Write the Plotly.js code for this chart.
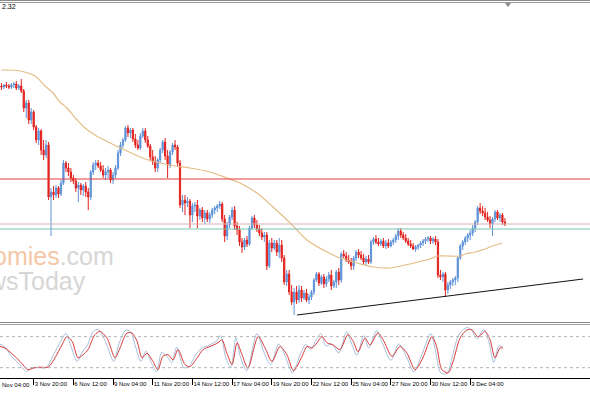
<!DOCTYPE html>
<html><head><meta charset="utf-8">
<script src="https://cdn.plot.ly/plotly-3.0.1.min.js"></script>
<style>html,body{margin:0;padding:0;background:#fff}#chart{width:590px;height:393px}</style>
</head><body><div id="chart"></div>
<script>
// ---- data (4H bars, bar index 0 = "1 Nov 04:00") ----
const firstBar = 3;
const openP = [1.1914,1.1913,1.1915,1.1914,1.1913,1.1915,1.1916,1.1912,
 1.1914,1.1909,1.1892,1.1897,1.1880,1.1888,1.1873,1.1860,1.1869,1.1850,
 1.1845,1.1855,1.1803,1.1808,1.1805,1.1812,1.1806,1.1817,1.1837,1.1832,
 1.1828,1.1822,1.1819,1.1812,1.1815,1.1810,1.1814,1.1808,1.1803,1.1828,
 1.1835,1.1837,1.1834,1.1830,1.1825,1.1828,1.1830,1.1820,1.1825,1.1832,
 1.1847,1.1855,1.1860,1.1872,1.1867,1.1870,1.1861,1.1855,1.1852,1.1864,
 1.1869,1.1860,1.1854,1.1843,1.1838,1.1832,1.1840,1.1850,1.1858,1.1844,
 1.1835,1.1848,1.1855,1.1853,1.1837,1.1795,1.1800,1.1797,1.1799,1.1785,
 1.1794,1.1795,1.1784,1.1790,1.1782,1.1787,1.1781,1.1785,1.1790,1.1792,
 1.1794,1.1796,1.1781,1.1764,1.1775,1.1783,1.1790,1.1774,1.1770,1.1758,
 1.1753,1.1760,1.1756,1.1772,1.1782,1.1775,1.1771,1.1767,1.1763,1.1765,
 1.1734,1.1757,1.1752,1.1757,1.1748,1.1755,1.1742,1.1718,1.1726,1.1708,
 1.1698,1.1708,1.1700,1.1710,1.1702,1.1707,1.1700,1.1703,1.1708,1.1720,
 1.1726,1.1717,1.1723,1.1716,1.1721,1.1725,1.1714,1.1718,1.1728,1.1720,
 1.1746,1.1744,1.1740,1.1738,1.1734,1.1742,1.1748,1.1745,1.1742,1.1738,
 1.1741,1.1738,1.1758,1.1761,1.1758,1.1756,1.1759,1.1754,1.1757,1.1754,
 1.1758,1.1760,1.1764,1.1769,1.1765,1.1762,1.1759,1.1756,1.1754,1.1751,
 1.1753,1.1755,1.1757,1.1759,1.1761,1.1762,1.1759,1.1761,1.1758,1.1725,
 1.1723,1.1726,1.1710,1.1715,1.1718,1.1720,1.1722,1.1742,1.1754,1.1758,
 1.1762,1.1765,1.1767,1.1772,1.1778,1.1792,1.1789,1.1787,1.1783,1.1780,
 1.1776,1.1781,1.1788,1.1782,1.1785,1.1778];
const highP = [1.1917,1.1916,1.1918,1.1916,1.1917,1.1918,1.1919,1.1916,
 1.1921,1.1911,1.1900,1.1900,1.1892,1.1890,1.1875,1.1872,1.1871,1.1860,
 1.1860,1.1858,1.1812,1.1814,1.1815,1.1814,1.1820,1.1840,1.1839,1.1837,
 1.1832,1.1825,1.1822,1.1818,1.1817,1.1816,1.1818,1.1812,1.1830,1.1838,
 1.1840,1.1840,1.1838,1.1835,1.1832,1.1834,1.1832,1.1828,1.1835,1.1850,
 1.1858,1.1862,1.1874,1.1875,1.1872,1.1872,1.1866,1.1860,1.1867,1.1872,
 1.1872,1.1864,1.1856,1.1850,1.1844,1.1842,1.1852,1.1860,1.1862,1.1850,
 1.1850,1.1857,1.1860,1.1855,1.1840,1.1805,1.1805,1.1803,1.1801,1.1797,
 1.1798,1.1800,1.1792,1.1793,1.1790,1.1790,1.1788,1.1792,1.1794,1.1796,
 1.1799,1.1798,1.1785,1.1778,1.1785,1.1793,1.1794,1.1778,1.1774,1.1762,
 1.1762,1.1764,1.1774,1.1784,1.1785,1.1780,1.1775,1.1772,1.1768,1.1768,
 1.1760,1.1762,1.1760,1.1760,1.1762,1.1760,1.1745,1.1730,1.1730,1.1715,
 1.1712,1.1714,1.1715,1.1714,1.1710,1.1711,1.1706,1.1710,1.1722,1.1728,
 1.1728,1.1725,1.1726,1.1724,1.1728,1.1730,1.1720,1.1730,1.1732,1.1748,
 1.1750,1.1748,1.1745,1.1742,1.1744,1.1750,1.1751,1.1749,1.1746,1.1744,
 1.1745,1.1760,1.1763,1.1765,1.1762,1.1761,1.1762,1.1760,1.1761,1.1760,
 1.1762,1.1766,1.1772,1.1772,1.1768,1.1766,1.1762,1.1760,1.1757,1.1755,
 1.1756,1.1759,1.1761,1.1763,1.1764,1.1764,1.1763,1.1764,1.1761,1.1730,
 1.1728,1.1728,1.1718,1.1720,1.1722,1.1724,1.1744,1.1756,1.1760,1.1764,
 1.1767,1.1770,1.1775,1.1780,1.1794,1.1797,1.1794,1.1792,1.1788,1.1784,
 1.1783,1.1790,1.1790,1.1787,1.1787,1.1782];
const lowP = [1.1910,1.1911,1.1912,1.1911,1.1911,1.1912,1.1910,1.1910,
 1.1907,1.1888,1.1882,1.1876,1.1876,1.1870,1.1857,1.1855,1.1845,1.1840,
 1.1842,1.1800,1.1764,1.1800,1.1802,1.1802,1.1804,1.1815,1.1828,1.1824,
 1.1818,1.1816,1.1808,1.1798,1.1805,1.1804,1.1803,1.1790,1.1800,1.1825,
 1.1830,1.1832,1.1828,1.1822,1.1820,1.1822,1.1817,1.1816,1.1822,1.1830,
 1.1844,1.1852,1.1858,1.1863,1.1862,1.1858,1.1852,1.1850,1.1850,1.1862,
 1.1857,1.1852,1.1840,1.1835,1.1828,1.1828,1.1837,1.1847,1.1840,1.1822,
 1.1832,1.1845,1.1850,1.1834,1.1792,1.1788,1.1785,1.1793,1.1772,1.1778,
 1.1788,1.1772,1.1780,1.1778,1.1776,1.1778,1.1777,1.1782,1.1786,1.1788,
 1.1791,1.1778,1.1758,1.1760,1.1772,1.1780,1.1770,1.1765,1.1754,1.1747,
 1.1750,1.1753,1.1754,1.1770,1.1772,1.1768,1.1764,1.1760,1.1758,1.1730,
 1.1732,1.1748,1.1750,1.1744,1.1742,1.1738,1.1715,1.1714,1.1705,1.1695,
 1.1685,1.1696,1.1697,1.1698,1.1700,1.1698,1.1696,1.1700,1.1705,1.1718,
 1.1714,1.1715,1.1712,1.1713,1.1718,1.1710,1.1712,1.1712,1.1715,1.1717,
 1.1742,1.1738,1.1736,1.1730,1.1730,1.1739,1.1742,1.1740,1.1735,1.1734,
 1.1736,1.1736,1.1755,1.1756,1.1754,1.1754,1.1752,1.1751,1.1752,1.1753,
 1.1755,1.1757,1.1760,1.1762,1.1760,1.1757,1.1754,1.1752,1.1750,1.1748,
 1.1750,1.1752,1.1754,1.1756,1.1758,1.1756,1.1756,1.1755,1.1722,1.1720,
 1.1718,1.1703,1.1706,1.1711,1.1714,1.1715,1.1718,1.1740,1.1750,1.1755,
 1.1758,1.1760,1.1764,1.1768,1.1775,1.1786,1.1784,1.1780,1.1778,1.1772,
 1.1764,1.1778,1.1780,1.1778,1.1775,1.1774];
const closeP = [1.1913,1.1915,1.1914,1.1913,1.1915,1.1916,1.1912,1.1914,
 1.1909,1.1892,1.1897,1.1880,1.1888,1.1873,1.1860,1.1869,1.1850,1.1845,
 1.1855,1.1803,1.1808,1.1805,1.1812,1.1806,1.1817,1.1837,1.1832,1.1828,
 1.1822,1.1819,1.1812,1.1815,1.1810,1.1814,1.1808,1.1803,1.1828,1.1835,
 1.1837,1.1834,1.1830,1.1825,1.1828,1.1830,1.1820,1.1825,1.1832,1.1847,
 1.1855,1.1860,1.1872,1.1867,1.1870,1.1861,1.1855,1.1852,1.1864,1.1869,
 1.1860,1.1854,1.1843,1.1838,1.1832,1.1840,1.1850,1.1858,1.1844,1.1835,
 1.1848,1.1855,1.1853,1.1837,1.1795,1.1800,1.1797,1.1799,1.1785,1.1794,
 1.1795,1.1784,1.1790,1.1782,1.1787,1.1781,1.1785,1.1790,1.1792,1.1794,
 1.1796,1.1781,1.1764,1.1775,1.1783,1.1790,1.1774,1.1770,1.1758,1.1753,
 1.1760,1.1756,1.1772,1.1782,1.1775,1.1771,1.1767,1.1763,1.1765,1.1734,
 1.1757,1.1752,1.1757,1.1748,1.1755,1.1742,1.1718,1.1726,1.1708,1.1698,
 1.1708,1.1700,1.1710,1.1702,1.1707,1.1700,1.1703,1.1708,1.1720,1.1726,
 1.1717,1.1723,1.1716,1.1721,1.1725,1.1714,1.1718,1.1728,1.1720,1.1746,
 1.1744,1.1740,1.1738,1.1734,1.1742,1.1748,1.1745,1.1742,1.1738,1.1741,
 1.1738,1.1758,1.1761,1.1758,1.1756,1.1759,1.1754,1.1757,1.1754,1.1758,
 1.1760,1.1764,1.1769,1.1765,1.1762,1.1759,1.1756,1.1754,1.1751,1.1753,
 1.1755,1.1757,1.1759,1.1761,1.1762,1.1759,1.1761,1.1758,1.1725,1.1723,
 1.1726,1.1710,1.1715,1.1718,1.1720,1.1722,1.1742,1.1754,1.1758,1.1762,
 1.1765,1.1767,1.1772,1.1778,1.1792,1.1789,1.1787,1.1783,1.1780,1.1776,
 1.1781,1.1788,1.1782,1.1785,1.1778,1.1776];

// moving average, read at sample bars
const maBars = [3,10.5,16.5,20.6,23.8,26.6,29.4,33.5,36.7,40.7,46.8,52.8,60.9,66.9,73,79,87,93.9,99.2,106,112.5,119.4,126.2,132.7,139.5,146.4,152.8,159.7,165.7,171,175.8,179,182.7,187.9,190,194,198,201,205];
const maVal = [1.1930,1.1929,1.1924,1.1914,1.1907,1.1898,1.1892,1.1880,1.1872,1.1865,1.1857,1.1850,1.1841,1.1837,1.1834,1.1832,1.1828,1.1822,1.1817,1.1807,1.1793,1.1777,1.1760,1.1750,1.1742,1.1737,1.1733,1.1732,1.1735,1.1738,1.1741,1.1744,1.1744,1.1744,1.1746,1.1748,1.1751,1.1754,1.1757];

// horizontal levels
const levelRed = 1.1821, levelRose = 1.1776, levelTeal = 1.1771;
// trend line end points
const trendBars = [122.2, 237.5];
const trendVal = [1.1685, 1.1721];

// stochastic oscillator
const dBars = [2.4,4.4,7.7,10.5,13.7,15.7,18.5,21.8,24.6,27.4,29.4,31.5,33.9,35.9,37.9,40.7,42.7,45.6,48.8,50.8,53.6,55.6,57.7,59.7,61.7,64.1,66.1,68.1,70.2,72.2,74.2,77,79,81.9,84.3,87.1,90.3,91.9,93.9,96,98,100,102.4,106.5,109.3,112.1,115.3,118.1,120.8,124.2,126.2,128.2,130.2,132.3,134.3,136.7,139.5,142.7,144.8,146.8,149.6,151.6,154.8,156.9,160.5,163.7,166.5,169.8,172.9,176.6,178.6,180.6,183.1,185.1,187.9,190.7,192.7,195.2,198,200,202,204,205.2];
const stochD = [61,58,45,32,16,19,21,21,39,64,80,71,39,45,55,84,90,77,39,58,87,87,71,39,48,32,16,42,45,35,55,26,22,39,55,61,68,74,48,26,68,45,19,80,58,32,61,45,14,42,61,58,68,80,68,64,55,84,71,51,77,64,87,74,42,61,48,16,39,80,58,16,10,32,77,93,93,80,90,74,39,58,58];
const kBars = [2.4,4,7,10,13,15.5,18,21,24,27,29,31,33.5,35.5,37.5,40,42,45,48.3,50.3,53,55,57,59.2,61.2,63.6,65.6,67.6,69.7,71.7,73.7,76.5,78.5,81.4,83.8,86.6,89.8,91.4,93.4,95.5,97.5,99.5,101.9,106,108.8,111.6,114.8,117.6,120.3,123.7,125.7,127.7,129.7,131.8,133.8,136.2,139,142.2,144.3,146.3,149.1,151.1,154.3,156.4,160,163.2,166,169.3,172.4,176.1,178.1,180.1,182.6,184.6,187.4,190.2,192.2,194.7,197.5,199.5,201.5,203.5,205.2];
const stochK = [65,62,42,28,13,20,20,20,45,72,86,62,32,50,62,90,94,70,32,65,92,90,62,32,52,28,12,50,42,30,60,20,22,45,58,63,72,82,40,20,78,38,14,86,50,26,66,40,10,48,65,55,72,86,62,66,48,90,65,44,82,58,92,70,34,66,44,12,44,86,50,10,8,38,84,97,95,76,94,70,30,62,60];
const stochLevels = [20, 80];

// time-axis labels
const tickBars = [16,32,48,64,80,96,112,128,144,160,176,192];
const tickText = ['3 Nov 20:00','6 Nov 12:00','9 Nov 04:00','11 Nov 20:00','14 Nov 12:00','17 Nov 04:00','19 Nov 20:00','22 Nov 12:00','25 Nov 04:00','27 Nov 20:00','30 Nov 12:00','3 Dec 04:00'];
const firstLabel = '1 Nov 04:00';

// ---- build ----
const bars = openP.map((_, k) => firstBar + k);
const BLUE = '#5f93d8', RED = '#e2231f';
const TICKFONT = {family:'Liberation Sans', size:6, color:'#000'};
const traces = [
  {type:'candlestick', x:bars, open:openP, high:highP, low:lowP, close:closeP,
   increasing:{line:{color:BLUE,width:1}, fillcolor:BLUE},
   decreasing:{line:{color:RED,width:1}, fillcolor:RED},
   whiskerwidth:0, hoverinfo:'skip', xaxis:'x', yaxis:'y'},
  {type:'scatter', mode:'lines', x:maBars, y:maVal, line:{color:'#e5bd86', width:1.2, shape:'spline'}, hoverinfo:'skip', xaxis:'x', yaxis:'y'},
  {type:'scatter', mode:'lines', x:trendBars, y:trendVal, line:{color:'#111', width:1}, hoverinfo:'skip', xaxis:'x', yaxis:'y', cliponaxis:true},
  {type:'scatter', mode:'lines', x:kBars, y:stochK, line:{color:'#a7bfd8', width:1, shape:'spline', smoothing:0.8}, hoverinfo:'skip', xaxis:'x', yaxis:'y2'},
  {type:'scatter', mode:'lines', x:dBars, y:stochD, line:{color:'#d9383a', width:1, shape:'spline', smoothing:0.8}, hoverinfo:'skip', xaxis:'x', yaxis:'y2'}
];

const H = 378; // plot area height in px (margin bottom 15)
const py = p => (H - p) / H;
const shapes = [
  {type:'line', xref:'paper', x0:0, x1:1, yref:'y', y0:levelRed, y1:levelRed, line:{color:'#e23a3a', width:1}},
  {type:'line', xref:'paper', x0:0, x1:1, yref:'y', y0:levelRose, y1:levelRose, line:{color:'#dcb2b2', width:1}},
  {type:'line', xref:'paper', x0:0, x1:1, yref:'y', y0:levelTeal, y1:levelTeal, line:{color:'#76c4ae', width:1}},
  {type:'line', xref:'paper', x0:0, x1:1, yref:'y2', y0:stochLevels[0], y1:stochLevels[0], line:{color:'#b4b4b4', width:1, dash:'dot'}},
  {type:'line', xref:'paper', x0:0, x1:1, yref:'y2', y0:stochLevels[1], y1:stochLevels[1], line:{color:'#b4b4b4', width:1, dash:'dot'}},
  // frame lines
  {type:'line', xref:'paper', x0:0, x1:1, yref:'paper', y0:py(0.5), y1:py(0.5), line:{color:'#8a8a8a', width:1}},
  {type:'line', xref:'paper', x0:0, x1:1, yref:'paper', y0:py(2.5), y1:py(2.5), line:{color:'#9a9a9a', width:1}},
  {type:'line', xref:'paper', x0:0, x1:1, yref:'paper', y0:py(322.5), y1:py(322.5), line:{color:'#8a8a8a', width:1}},
  {type:'line', xref:'paper', x0:0, x1:1, yref:'paper', y0:py(324.5), y1:py(324.5), line:{color:'#a0a0a0', width:1}},
  {type:'path', xref:'paper', yref:'paper', path:`M ${505/590} ${py(3)} L ${511/590} ${py(3)} L ${508/590} ${py(7)} Z`, fillcolor:'#8a8a8a', line:{width:0}}
];

const annotations = [
  {xref:'paper', yref:'paper', x:-5/590, y:-0.004, xanchor:'left', yanchor:'top', showarrow:false, text:firstLabel, font:TICKFONT},
  {xref:'paper', yref:'paper', x:0, y:py(7), xanchor:'left', yanchor:'middle', showarrow:false, text:'2.32', font:{family:'Liberation Sans', size:7, color:'#000'}},
  {xref:'paper', yref:'paper', x:116/590, y:py(256), xanchor:'right', yanchor:'middle', showarrow:false,
   text:'<span style="color:#f5c7a6">Economies</span><span style="color:#d6d6d6">.com</span>', font:{family:'Liberation Sans', size:25}},
  {xref:'paper', yref:'paper', x:88/590, y:py(281), xanchor:'right', yanchor:'middle', showarrow:false,
   text:'NewsToday', font:{family:'Liberation Sans', size:25, color:'#d6d6d6'}}
];

const layout = {
  width:590, height:393, margin:{l:0, r:0, t:0, b:15},
  paper_bgcolor:'#ffffff', plot_bgcolor:'#ffffff', showlegend:false,
  xaxis:{range:[2.42, 240.3], anchor:'y2', tickvals:tickBars, ticktext:tickText, tickangle:0,
    ticklabelposition:'outside right', ticks:'outside', ticklen:6, tickcolor:'#000', tickwidth:1,
    showline:true, linecolor:'#000', linewidth:1, showgrid:false, zeroline:false,
    rangeslider:{visible:false}, tickfont:TICKFONT},
  yaxis:{domain:[py(321), 1], range:[1.1679, 1.2000], showgrid:false, zeroline:false, showticklabels:false, ticks:''},
  yaxis2:{domain:[0, py(326.3)], range:[0, 100], showgrid:false, zeroline:false, showticklabels:false, ticks:''},
  shapes, annotations
};

Plotly.newPlot('chart', traces, layout, {staticPlot:true, displayModeBar:false});
</script>
</body></html>
